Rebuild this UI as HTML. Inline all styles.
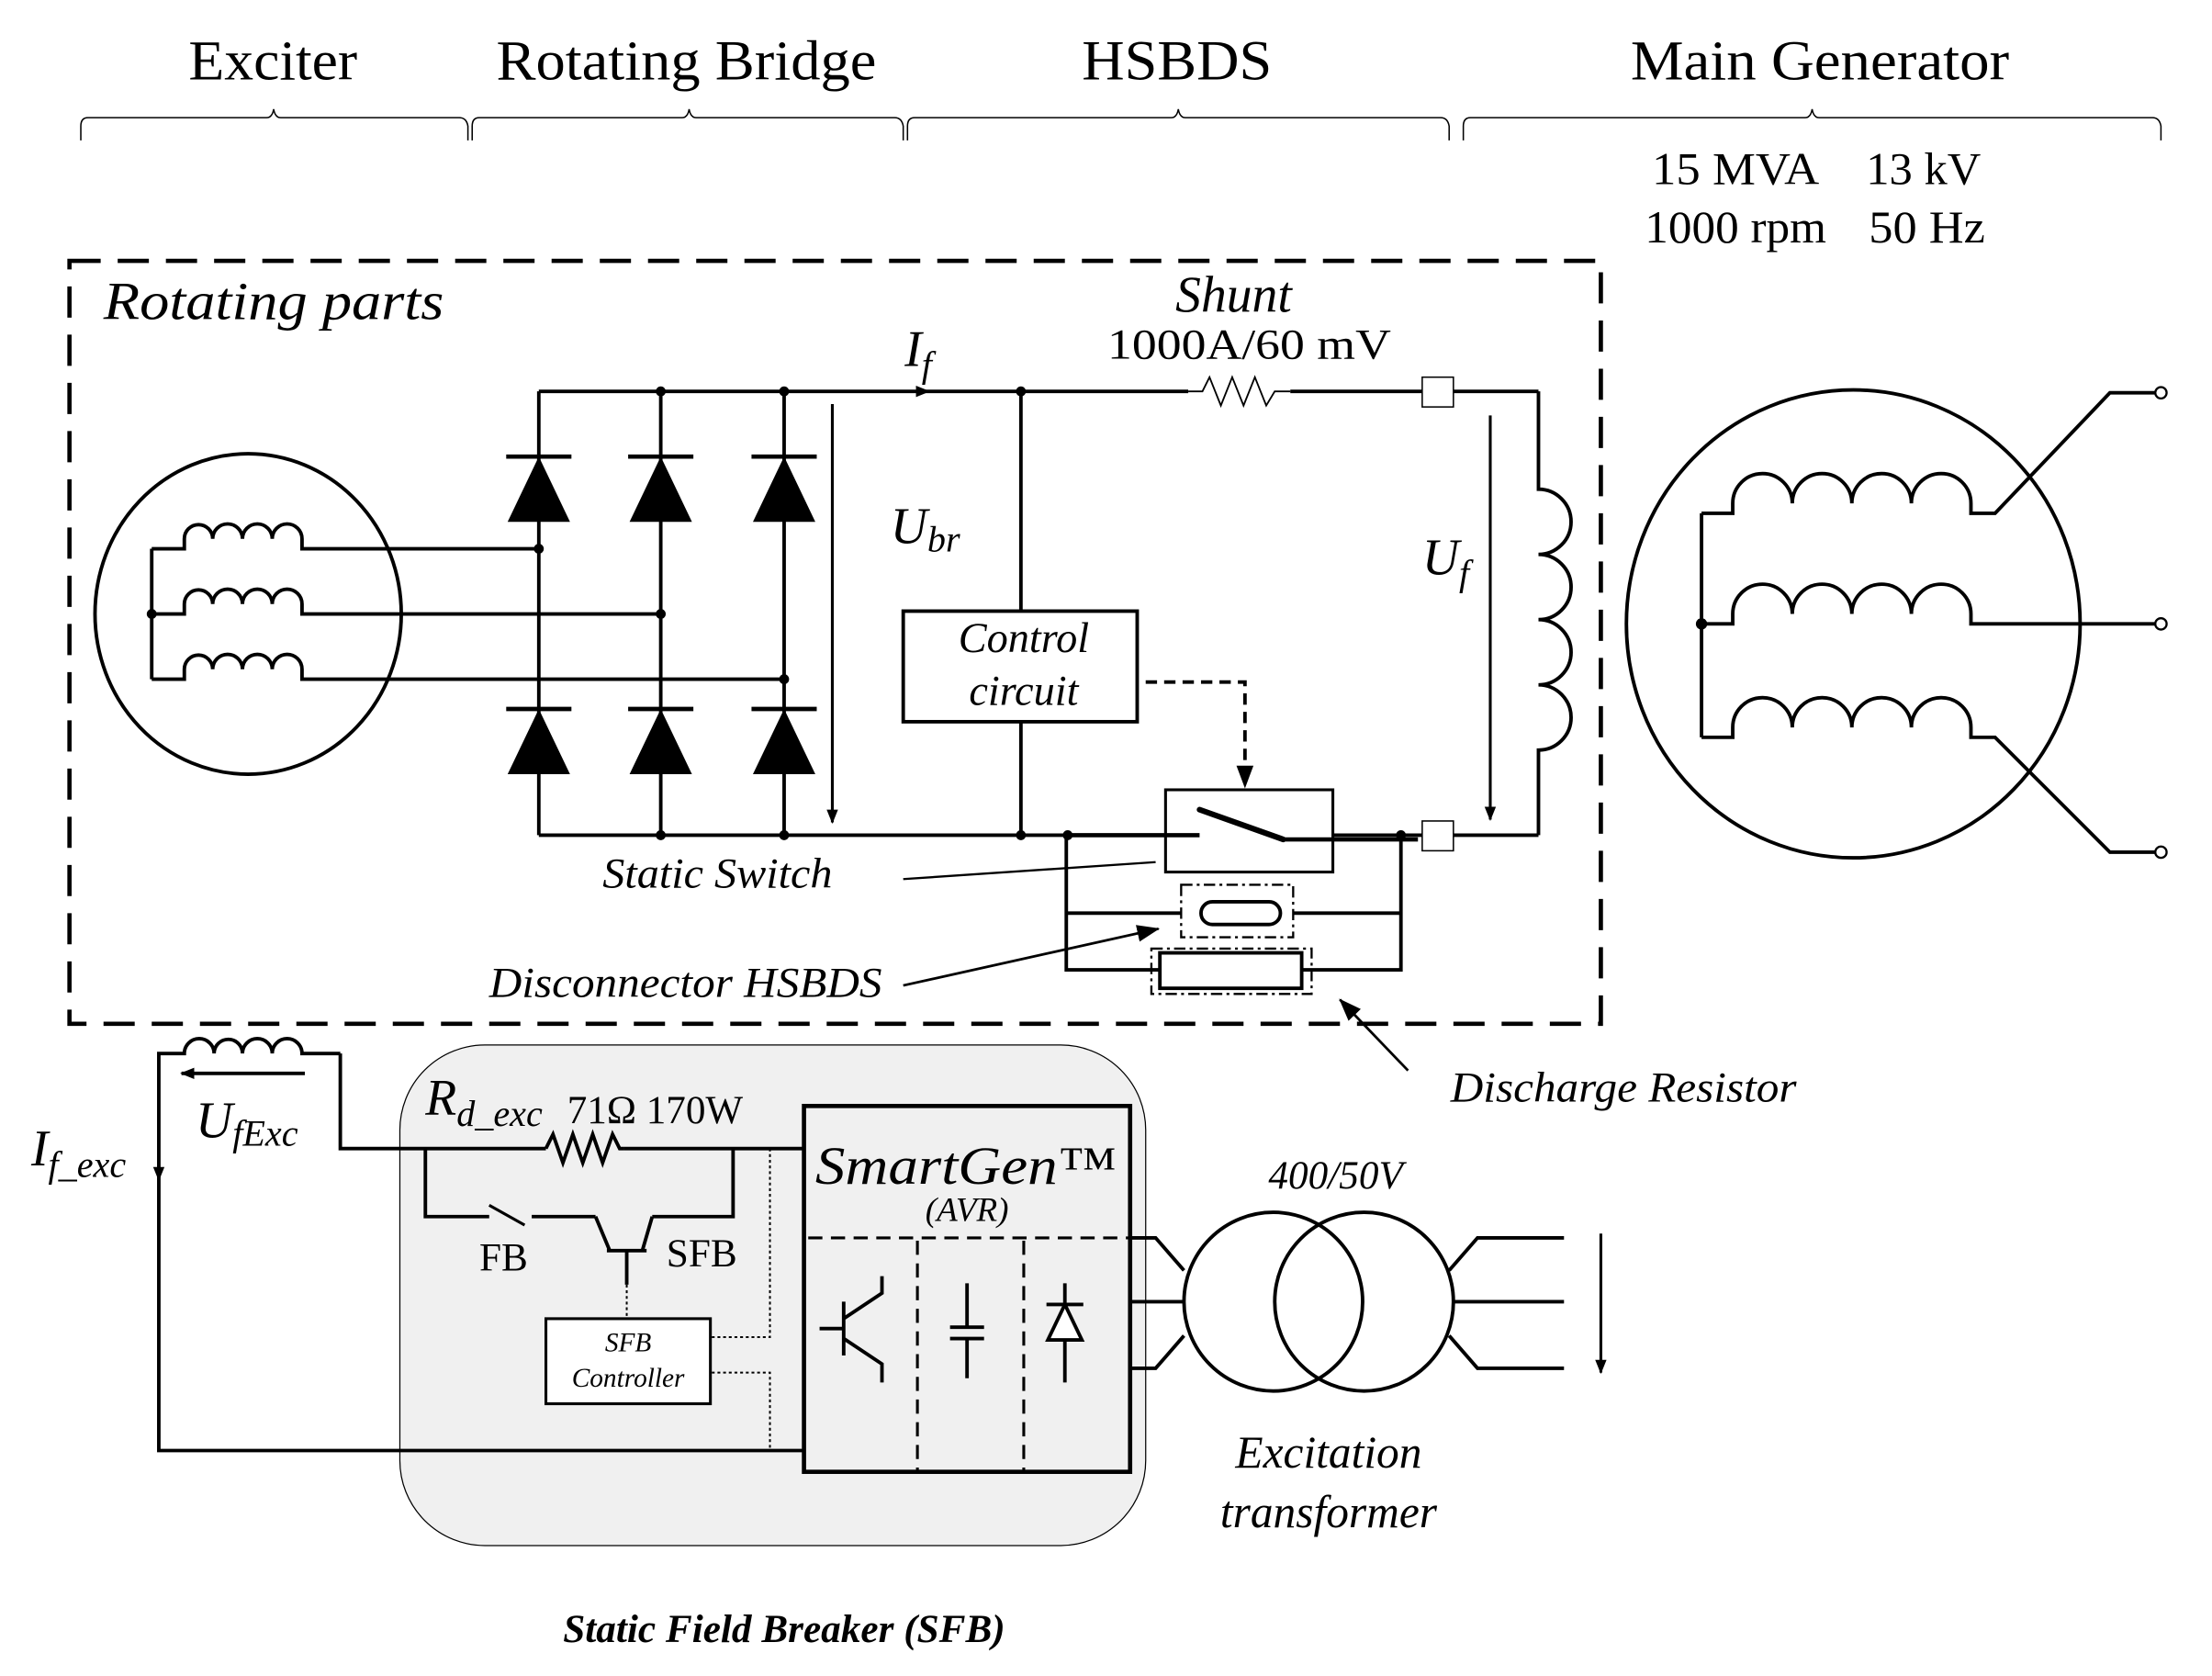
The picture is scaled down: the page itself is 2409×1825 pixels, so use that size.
<!DOCTYPE html>
<html><head><meta charset="utf-8"><style>
html,body{margin:0;padding:0;background:#fff;}
svg{display:block;}
text{font-family:"Liberation Serif",serif;fill:#000;}
.i{font-style:italic;}
</style></head><body>
<svg width="2409" height="1825" viewBox="0 0 1560 1182" preserveAspectRatio="none" xmlns="http://www.w3.org/2000/svg">
<defs>
<marker id="ah" markerWidth="10" markerHeight="10" refX="9" refY="5" orient="auto" markerUnits="userSpaceOnUse"><path d="M0,1 L10,5 L0,9 z" fill="#000"/></marker>
<marker id="ahb" markerWidth="16" markerHeight="14" refX="15" refY="7" orient="auto" markerUnits="userSpaceOnUse"><path d="M0,1 L16,7 L0,13 z" fill="#000"/></marker>
</defs>
<text x="133" y="56" font-size="40" textLength="119" lengthAdjust="spacingAndGlyphs">Exciter</text>
<text x="350" y="56" font-size="40" textLength="268" lengthAdjust="spacingAndGlyphs">Rotating Bridge</text>
<text x="763" y="56" font-size="40" textLength="134" lengthAdjust="spacingAndGlyphs">HSBDS</text>
<text x="1150" y="56" font-size="40" textLength="267" lengthAdjust="spacingAndGlyphs">Main Generator</text>
<g fill="none" stroke="#000" stroke-width="1">
<path d="M57,99 V89 Q57,83 62,83 H188 Q192,83 193,77 Q194,83 198,83 H324 Q329,83 330,89 V99"/>
<path d="M333,99 V89 Q333,83 338,83 H481 Q485,83 486,77 Q487,83 491,83 H631 Q636,83 637,89 V99"/>
<path d="M640,99 V89 Q640,83 645,83 H826 Q830,83 831,77 Q832,83 836,83 H1016 Q1021,83 1022,89 V99"/>
<path d="M1032,99 V89 Q1032,83 1037,83 H1273 Q1277,83 1278,77 Q1279,83 1283,83 H1518 Q1523,83 1524,89 V99"/>
</g>
<text x="1165" y="130" font-size="32" textLength="118" lengthAdjust="spacingAndGlyphs">15 MVA</text>
<text x="1316" y="130" font-size="32" textLength="81" lengthAdjust="spacingAndGlyphs">13 kV</text>
<text x="1160" y="171" font-size="32" textLength="128" lengthAdjust="spacingAndGlyphs">1000 rpm</text>
<text x="1318" y="171" font-size="32" textLength="82" lengthAdjust="spacingAndGlyphs">50 Hz</text>
<rect x="49" y="184" width="1080" height="538" fill="none" stroke="#000" stroke-width="3" stroke-dasharray="22,12"/>
<text x="73" y="225" font-size="38" class="i" textLength="240" lengthAdjust="spacingAndGlyphs">Rotating parts</text>
<g fill="none" stroke="#000" stroke-width="2.5">
<ellipse cx="175" cy="433" rx="108" ry="113"/>
<path d="M107,387 V479"/>
<path d="M107,387 H130 V380 a10,10 0 0 1 20,0 a10,10 0 0 1 21,0 a10,10 0 0 1 21,0 a10,10 0 0 1 21,0 v7 H380"/>
<path d="M107,433 H130 V426 a10,10 0 0 1 20,0 a10,10 0 0 1 21,0 a10,10 0 0 1 21,0 a10,10 0 0 1 21,0 v7 H466"/>
<path d="M107,479 H130 V472 a10,10 0 0 1 20,0 a10,10 0 0 1 21,0 a10,10 0 0 1 21,0 a10,10 0 0 1 21,0 v7 H553"/>
<path d="M380,276 H1085 M380,589 H1085 M380,276 V589 M466,276 V589 M553,276 V589"/>
<path d="M357,322 H403 M443,322 H489 M530,322 H576 M357,500 H403 M443,500 H489 M530,500 H576" stroke-width="3"/>
<path d="M720,276 V589"/>
</g>
<g fill="#000">
<path d="M380,322 L358,368 H402 Z M466,322 L444,368 H488 Z M553,322 L531,368 H575 Z"/>
<path d="M380,500 L358,546 H402 Z M466,500 L444,546 H488 Z M553,500 L531,546 H575 Z"/>
<circle cx="107" cy="433" r="3.5"/><circle cx="380" cy="387" r="3.5"/><circle cx="466" cy="433" r="3.5"/><circle cx="553" cy="479" r="3.5"/>
<circle cx="466" cy="276" r="3.5"/><circle cx="553" cy="276" r="3.5"/><circle cx="466" cy="589" r="3.5"/><circle cx="553" cy="589" r="3.5"/>
<circle cx="720" cy="276" r="3.5"/><circle cx="720" cy="589" r="3.5"/><circle cx="753" cy="589" r="3.5"/><circle cx="988" cy="589" r="3.5"/>
<path d="M646,272 L656,276 L646,280 Z"/>
</g>
<line x1="587" y1="285" x2="587" y2="580" stroke="#000" stroke-width="2" marker-end="url(#ah)"/>
<text x="628" y="383" font-size="36" class="i">U<tspan font-size="26" dy="6">br</tspan></text>
<text x="638" y="258" font-size="36" class="i">I<tspan font-size="26" dy="8">f</tspan></text>
<rect x="637" y="431" width="165" height="78" fill="#fff" stroke="#000" stroke-width="2.5"/>
<text x="722" y="460" font-size="30" class="i" text-anchor="middle">Control</text>
<text x="722" y="497" font-size="30" class="i" text-anchor="middle">circuit</text>
<path d="M808,481 H878 V548" fill="none" stroke="#000" stroke-width="2.5" stroke-dasharray="8,5"/>
<path d="M872,540 L878,556 L884,540 Z" fill="#000"/>
<text x="870" y="220" font-size="36" class="i" text-anchor="middle">Shunt</text>
<text x="881" y="253" font-size="30" text-anchor="middle" textLength="200" lengthAdjust="spacingAndGlyphs">1000A/60 mV</text>
<rect x="838" y="266" width="72" height="20" fill="#fff"/>
<path d="M838,276 L848,276 L853,266 L861,286 L869,266 L877,286 L885,266 L893,286 L899,276 L910,276" fill="none" stroke="#000" stroke-width="1.2"/>
<path d="M1085,276 V345 a22,22 0 0 1 0,46 a22,22 0 0 1 0,46 a22,22 0 0 1 0,46 a22,22 0 0 1 0,46 V589" fill="none" stroke="#000" stroke-width="2.5"/>
<rect x="1003" y="266" width="22" height="21" fill="#fff" stroke="#000" stroke-width="1"/>
<rect x="1003" y="579" width="22" height="21" fill="#fff" stroke="#000" stroke-width="1"/>
<line x1="1051" y1="293" x2="1051" y2="578" stroke="#000" stroke-width="2" marker-end="url(#ah)"/>
<text x="1003" y="405" font-size="36" class="i">U<tspan font-size="26" dy="8">f</tspan></text>
<rect x="822" y="557" width="118" height="58" fill="#fff" stroke="#000" stroke-width="2"/>
<path d="M753,589 H846 M905,592 H1000" stroke="#000" stroke-width="3"/>
<path d="M846,571 L905,592" stroke="#000" stroke-width="4" stroke-linecap="round"/>
<g fill="none" stroke="#000" stroke-width="2.5">
<path d="M752,589 V684 H817 M918,684 H988 V589 M752,644 H833 M912,644 H988"/>
<rect x="818" y="672" width="100" height="25" fill="#fff"/>
<rect x="847" y="636" width="56" height="16" rx="8"/>
</g>
<g fill="none" stroke="#000" stroke-width="1.5" stroke-dasharray="8,3,2,3">
<rect x="833" y="624" width="79" height="37"/>
<rect x="812" y="669" width="113" height="32"/>
</g>
<text x="425" y="626" font-size="30" class="i" textLength="162" lengthAdjust="spacingAndGlyphs">Static Switch</text>
<line x1="637" y1="620" x2="815" y2="608" stroke="#000" stroke-width="1.5"/>
<text x="345" y="703" font-size="30" class="i" textLength="277" lengthAdjust="spacingAndGlyphs">Disconnector HSBDS</text>
<line x1="637" y1="695" x2="817" y2="655" stroke="#000" stroke-width="1.8" marker-end="url(#ahb)"/>
<text x="1023" y="777" font-size="30" class="i" textLength="244" lengthAdjust="spacingAndGlyphs">Discharge Resistor</text>
<line x1="993" y1="755" x2="945" y2="705" stroke="#000" stroke-width="1.8" marker-end="url(#ahb)"/>
<g fill="none" stroke="#000" stroke-width="2.5">
<ellipse cx="1307" cy="440" rx="160" ry="165"/>
<path d="M1200,362 V520"/>
<path d="M1200,362 H1222 V355 a21,21 0 0 1 42,0 a21,21 0 0 1 42,0 a21,21 0 0 1 42,0 a21,21 0 0 1 42,0 v7 H1407 L1488,277 H1520"/>
<path d="M1200,440 H1222 V433 a21,21 0 0 1 42,0 a21,21 0 0 1 42,0 a21,21 0 0 1 42,0 a21,21 0 0 1 42,0 v7 H1520"/>
<path d="M1200,520 H1222 V513 a21,21 0 0 1 42,0 a21,21 0 0 1 42,0 a21,21 0 0 1 42,0 a21,21 0 0 1 42,0 v7 H1407 L1488,601 H1520"/>
</g>
<circle cx="1200" cy="440" r="4" fill="#000"/>
<g fill="#fff" stroke="#000" stroke-width="1.5"><circle cx="1524" cy="277" r="4"/><circle cx="1524" cy="440" r="4"/><circle cx="1524" cy="601" r="4"/></g>
<rect x="282" y="737" width="526" height="353" rx="60" fill="#f0f0f0" stroke="#000" stroke-width="0.8"/>
<g fill="none" stroke="#000" stroke-width="2.5">
<path d="M240,743 H213 a10,10 0 0 0 -21,0 a10,10 0 0 0 -21,0 a10,10 0 0 0 -20,0 a10,10 0 0 0 -21,0 H112 V1023 H567"/>
<path d="M240,743 V810 H385 M440,810 H567"/>
<path d="M300,810 V858 H345 M375,858 H420 M460,858 H517 V810"/>
<path d="M345,850 L370,864" stroke-width="2"/>
<path d="M420,858 L430,882 M460,858 L453,882 M428,882 H456 M442,882 V906"/>
<rect x="567" y="780" width="230" height="258" stroke-width="3"/>
</g>
<path d="M385,810 L390,800 L397,820 L404,800 L411,820 L418,800 L425,820 L432,800 L437,810 L440,810" fill="none" stroke="#000" stroke-width="2.5"/>
<line x1="112" y1="790" x2="112" y2="832" stroke="#000" stroke-width="2" marker-end="url(#ah)"/>
<line x1="215" y1="757" x2="128" y2="757" stroke="#000" stroke-width="2.5" marker-end="url(#ah)"/>
<text x="138" y="802" font-size="36" class="i">U<tspan font-size="26" dy="6">fExc</tspan></text>
<text x="22" y="822" font-size="36" class="i">I<tspan font-size="26" dy="8">f_exc</tspan></text>
<text x="300" y="786" font-size="36" class="i">R<tspan font-size="26" dy="8">d_exc</tspan></text>
<text x="400" y="792" font-size="28" textLength="124" lengthAdjust="spacingAndGlyphs">71Ω 170W</text>
<text x="338" y="896" font-size="28">FB</text>
<text x="470" y="893" font-size="28">SFB</text>
<g fill="none" stroke="#000" stroke-width="1.3" stroke-dasharray="2,2">
<path d="M442,906 V930 M502,943 H543 V810 M502,968 H543 V1023"/>
</g>
<rect x="385" y="930" width="116" height="60" fill="#fff" stroke="#000" stroke-width="2"/>
<text x="443" y="953" font-size="19" class="i" text-anchor="middle">SFB</text>
<text x="443" y="978" font-size="19" class="i" text-anchor="middle">Controller</text>
<text x="575" y="835" font-size="38" class="i" textLength="212" lengthAdjust="spacingAndGlyphs">SmartGen™</text>
<text x="682" y="861" font-size="24" class="i" text-anchor="middle">(AVR)</text>
<g fill="none" stroke="#000" stroke-width="2" stroke-dasharray="10,6">
<path d="M570,873 H797 M647,875 V1038 M722,875 V1038"/>
</g>
<g fill="none" stroke="#000" stroke-width="2.5">
<path d="M578,937 H595 M595,918 V956 M595,930 L622,912 V900 M595,944 L622,962 V975"/>
<path d="M682,905 V936 M670,936 H694 M670,944 H694 M682,944 V972"/>
<path d="M751,905 V975 M738,920 H764"/>
<path d="M751,920 L739,945 H763 Z" fill="#fff"/>
<path d="M797,873 H815 L835,896 M797,918 H835 M797,965 H815 L835,942"/>
<circle cx="898" cy="918" r="63"/><circle cx="962" cy="918" r="63"/>
<path d="M1022,896 L1042,873 H1103 M1025,918 H1103 M1022,942 L1042,965 H1103"/>
</g>
<line x1="1129" y1="870" x2="1129" y2="968" stroke="#000" stroke-width="2" marker-end="url(#ah)"/>
<text x="942" y="838" font-size="28" class="i" text-anchor="middle">400/50V</text>
<text x="937" y="1035" font-size="32" class="i" text-anchor="middle">Excitation</text>
<text x="937" y="1077" font-size="32" class="i" text-anchor="middle">transformer</text>
<text x="553" y="1158" font-size="28" font-weight="bold" class="i" text-anchor="middle">Static Field Breaker (SFB)</text>
</svg>
</body></html>
